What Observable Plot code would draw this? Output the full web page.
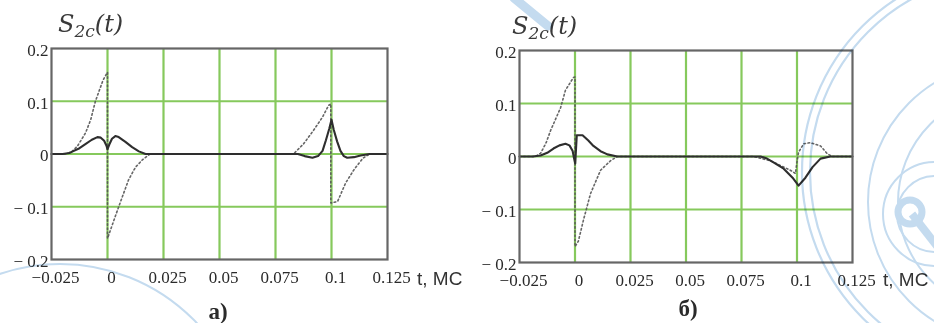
<!DOCTYPE html>
<html><head><meta charset="utf-8">
<script src="https://cdn.jsdelivr.net/npm/d3@7"></script>
<script src="https://cdn.jsdelivr.net/npm/@observablehq/plot@0.6"></script>
<style>
body{margin:0;background:#fff;}
#wrap{position:relative;width:934px;height:323px;overflow:hidden;background:#fff;}
.panel{position:absolute;top:0;}
.title{position:absolute;font:italic 24px 'DejaVu Serif';color:#3a3a3a;white-space:nowrap;line-height:1;}
.title sub{font-size:17px;vertical-align:-5px;}
.xl{position:absolute;font:19px 'Liberation Sans';color:#333;white-space:nowrap;line-height:1;}
.cap{position:absolute;font:bold 23px 'Liberation Serif';color:#2a2a2a;transform:translate(-50%,-50%);line-height:1;}
#wm{position:absolute;left:0;top:0;pointer-events:none;mix-blend-mode:multiply;}
</style></head><body><div id="wrap"></div>
<script>
// axis ticks and labels
const xTicks = [-0.025, 0, 0.025, 0.05, 0.075, 0.1, 0.125];
const xTickLabels = ["\u22120.025", "0", "0.025", "0.05", "0.075", "0.1", "0.125"];
const yTicks = [0.2, 0.1, 0, -0.1, -0.2];
const yTickLabels = ["0.2", "0.1", "0", "\u2212 0.1", "\u2212 0.2"];
const gridX = [0, 0.025, 0.05, 0.075, 0.1];
const gridY = [0.1, 0, -0.1];

// panel a) solid curve
const tA_solid = [-0.025, -0.02, -0.017, -0.0155, -0.0125, -0.0097, -0.007, -0.0045, -0.003, -0.0015, -0.0005, 0, 0.0008, 0.002, 0.0035, 0.005, 0.008, 0.011, 0.014, 0.017, 0.085, 0.088, 0.0915, 0.094, 0.096, 0.0975, 0.099, 0.1, 0.101, 0.1025, 0.104, 0.1055, 0.107, 0.11, 0.113, 0.117, 0.125];
const yA_solid = [0, 0, 0.002, 0.005, 0.011, 0.019, 0.027, 0.032, 0.031, 0.025, 0.016, 0.009, 0.018, 0.029, 0.034, 0.032, 0.023, 0.013, 0.005, 0, 0, -0.004, -0.007, -0.004, 0.006, 0.026, 0.048, 0.065, 0.046, 0.024, 0.006, -0.004, -0.007, -0.006, -0.003, 0, 0];
// panel a) dotted curve
const tA_dot = [-0.025, -0.019, -0.016, -0.0134, -0.0098, -0.0075, -0.0054, -0.002, 0, 0, 0.0025, 0.005, 0.0094, 0.0125, 0.0156, 0.019, 0.083, 0.0875, 0.092, 0.096, 0.0987, 0.0997, 0.0997, 0.1027, 0.1063, 0.11, 0.114, 0.117, 0.125];
const yA_dot = [0, 0, 0.004, 0.015, 0.04, 0.065, 0.1, 0.14, 0.155, -0.16, -0.13, -0.1, -0.049, -0.025, -0.011, 0, 0, 0.019, 0.045, 0.07, 0.092, 0.095, -0.093, -0.09, -0.055, -0.03, -0.008, 0, 0];

// panel b) solid curve
const tB_solid = [-0.025, -0.019, -0.0155, -0.0125, -0.0097, -0.007, -0.0043, -0.0025, -0.0011, -0.0004, 0.0001, 0.0008, 0.0034, 0.006, 0.0083, 0.0115, 0.0146, 0.019, 0.0836, 0.0865, 0.0894, 0.094, 0.098, 0.1007, 0.1038, 0.107, 0.1106, 0.115, 0.125];
const yB_solid = [0, 0, 0.002, 0.007, 0.015, 0.021, 0.024, 0.021, 0.011, -0.004, -0.013, 0.04, 0.04, 0.03, 0.02, 0.01, 0.004, 0, 0, -0.004, -0.011, -0.023, -0.04, -0.055, -0.04, -0.02, -0.004, 0, 0];
// panel b) dotted curve
const tB_dot = [-0.025, -0.018, -0.0155, -0.013, -0.011, -0.0065, -0.0043, -0.0007, 0, 0, 0.0015, 0.0038, 0.007, 0.0115, 0.016, 0.019, 0.0804, 0.088, 0.0926, 0.097, 0.0993, 0.1, 0.1007, 0.103, 0.106, 0.1106, 0.1137, 0.116, 0.125];
const yB_dot = [0, 0, 0.006, 0.026, 0.049, 0.092, 0.125, 0.149, 0.15, -0.17, -0.16, -0.12, -0.07, -0.026, -0.008, 0, 0, -0.008, -0.017, -0.026, -0.032, -0.01, 0.008, 0.024, 0.026, 0.02, 0.005, 0, 0];

const panelNames = ["\u0430)", "\u0431)"];
const titleText = ["S", "2c", "(t)"];
const axisName = "t, \u041c\u0421";

const zip = (t, y) => t.map((v, i) => ({t: v, y: y[i]}));

function panel({solid, dotted, width, height, ml, mr, mt, mb}) {
  return Plot.plot({
    width, height,
    marginLeft: ml, marginRight: mr, marginTop: mt, marginBottom: mb,
    style: {fontFamily: "'Liberation Serif', serif", fontSize: "17px", color: "#2a2a2a", background: "transparent", overflow: "visible"},
    x: {domain: [-0.025, 0.125]},
    y: {domain: [-0.2, 0.2]},
    marks: [
      Plot.ruleX(gridX, {stroke: "#86c95c", strokeWidth: 2.2}),
      Plot.ruleY(gridY, {stroke: "#86c95c", strokeWidth: 2.2}),
      Plot.line(dotted, {x: "t", y: "y", stroke: "#555", strokeWidth: 1.6, strokeDasharray: "1.6,2.6", strokeOpacity: 0.9}),
      Plot.line(solid, {x: "t", y: "y", stroke: "#2e2e2e", strokeWidth: 2.1}),
      Plot.frame({stroke: "#666", strokeWidth: 2.2}),
      Plot.axisX(xTicks, {tickSize: 0, tickPadding: 11, dx: 4, tickFormat: (d, i) => xTickLabels[i], label: null, fill: "#2a2a2a"}),
      Plot.axisY(yTicks, {tickSize: 0, tickPadding: 3, dy: 2, tickFormat: (d, i) => yTickLabels[i], label: null, fill: "#2a2a2a"})
    ]
  });
}

const wrap = document.getElementById("wrap");

const pa = panel({solid: zip(tA_solid, yA_solid), dotted: zip(tA_dot, yA_dot), width: 480, height: 290, ml: 51, mr: 93, mt: 48, mb: 31});
pa.classList.add("panel"); pa.style.left = "0px";
wrap.appendChild(pa);

const pb = panel({solid: zip(tB_solid, yB_solid), dotted: zip(tB_dot, yB_dot), width: 464, height: 290, ml: 49, mr: 82, mt: 50, mb: 28});
pb.classList.add("panel"); pb.style.left = "470px";
wrap.appendChild(pb);

function addTitle(left, top) {
  const d = document.createElement("div");
  d.className = "title";
  d.style.left = left + "px"; d.style.top = top + "px";
  d.innerHTML = `${titleText[0]}<sub>${titleText[1]}</sub>${titleText[2]}`;
  wrap.appendChild(d);
}
addTitle(58, 12);
addTitle(512, 14);

function addText(cls, txt, left, top) {
  const d = document.createElement("div");
  d.className = cls; d.textContent = txt;
  d.style.left = left + "px"; d.style.top = top + "px";
  wrap.appendChild(d);
}
addText("xl", axisName, 417, 269);
addText("xl", axisName, 883, 270);
addText("cap", panelNames[0], 218, 311);
addText("cap", panelNames[1], 688, 308);

// faint background watermark rings (decorative seal outline, not data)
const wmColor = "#c4dbef";
const wm = d3.select(wrap).append("svg").attr("id", "wm").attr("width", 934).attr("height", 323);
const seal = {cx: 1008, cy: 172};
[198, 206].forEach(r => wm.append("circle").attr("cx", seal.cx).attr("cy", seal.cy).attr("r", r)
  .attr("fill", "none").attr("stroke", wmColor).attr("stroke-width", 2.2));
[140, 110].forEach(r => wm.append("circle").attr("cx", seal.cx).attr("cy", seal.cy + 30).attr("r", r)
  .attr("fill", "none").attr("stroke", wmColor).attr("stroke-width", 2));
[52, 38].forEach(r => wm.append("circle").attr("cx", 935).attr("cy", 214).attr("r", r)
  .attr("fill", "none").attr("stroke", wmColor).attr("stroke-width", 2));
wm.append("circle").attr("cx", 910).attr("cy", 212).attr("r", 12).attr("fill", "none").attr("stroke", wmColor).attr("stroke-width", 7);
wm.append("line").attr("x1", 912).attr("y1", 214).attr("x2", 940).attr("y2", 250).attr("stroke", wmColor).attr("stroke-width", 8);
const seal2 = {cx: 60, cy: 452};
wm.append("circle").attr("cx", seal2.cx).attr("cy", seal2.cy).attr("r", 188).attr("fill", "none").attr("stroke", wmColor).attr("stroke-width", 2);
wm.append("line").attr("x1", 514).attr("y1", -2).attr("x2", 548).attr("y2", 26).attr("stroke", wmColor).attr("stroke-width", 9).attr("stroke-linecap", "round");
</script></body></html>
